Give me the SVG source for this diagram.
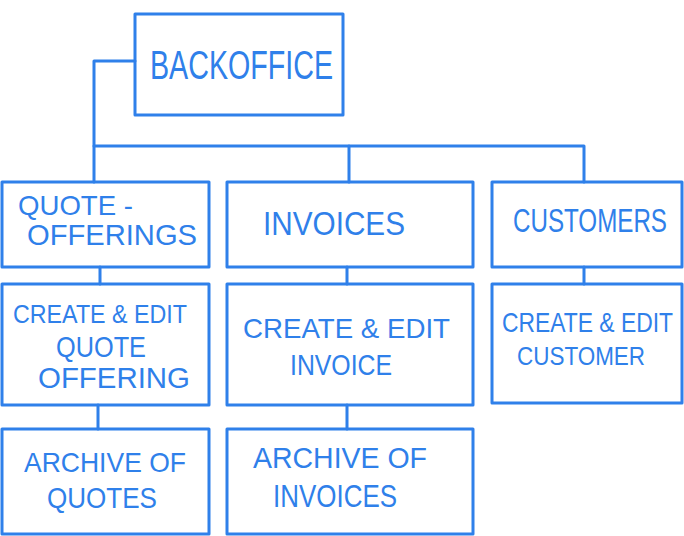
<svg xmlns="http://www.w3.org/2000/svg" width="684" height="536" viewBox="0 0 684 536">
<style>
.box{fill:none;stroke:#2f80ea;stroke-width:3;stroke-linejoin:round}
.ln{fill:none;stroke:#2f80ea;stroke-width:3;stroke-linecap:round;stroke-linejoin:round}
text{font-family:"Liberation Sans","DejaVu Sans",sans-serif;fill:#2f80ea;font-weight:normal}
</style>
<rect width="684" height="536" fill="#ffffff"/>
<g id="connectors">
<polyline class="ln" points="135,61 94,61 94,182"/>
<polyline class="ln" points="94,146 584,146 584,182"/>
<line class="ln" x1="349" y1="146" x2="349" y2="182"/>
<line class="ln" x1="100" y1="267" x2="100" y2="284"/>
<line class="ln" x1="98" y1="405" x2="98" y2="429"/>
<line class="ln" x1="347" y1="267" x2="347" y2="284"/>
<line class="ln" x1="347" y1="405" x2="347" y2="429"/>
<line class="ln" x1="584" y1="267" x2="584" y2="284"/>
</g>
<g id="backoffice">
<rect class="box" x="135" y="14" width="208" height="101"/>
<text x="150" y="79" font-size="40" textLength="183" lengthAdjust="spacingAndGlyphs">BACKOFFICE</text>
</g>
<g id="quote-offerings">
<rect class="box" x="2" y="182" width="207" height="85"/>
<text x="18" y="215" font-size="28" textLength="115" lengthAdjust="spacingAndGlyphs">QUOTE -</text>
<text x="27" y="245" font-size="30" textLength="170" lengthAdjust="spacingAndGlyphs">OFFERINGS</text>
</g>
<g id="create-edit-quote">
<rect class="box" x="2" y="284" width="207" height="121"/>
<text x="13" y="323" font-size="26" textLength="174" lengthAdjust="spacingAndGlyphs">CREATE &amp; EDIT</text>
<text x="56" y="357" font-size="30" textLength="90" lengthAdjust="spacingAndGlyphs">QUOTE</text>
<text x="38" y="388" font-size="30" textLength="152" lengthAdjust="spacingAndGlyphs">OFFERING</text>
</g>
<g id="archive-quotes">
<rect class="box" x="2" y="429" width="207" height="105"/>
<text x="24" y="472" font-size="28" textLength="162" lengthAdjust="spacingAndGlyphs">ARCHIVE OF</text>
<text x="47" y="508" font-size="30" textLength="110" lengthAdjust="spacingAndGlyphs">QUOTES</text>
</g>
<g id="invoices">
<rect class="box" x="227" y="182" width="246" height="85"/>
<text x="263" y="235" font-size="34" textLength="142" lengthAdjust="spacingAndGlyphs">INVOICES</text>
</g>
<g id="create-edit-invoice">
<rect class="box" x="227" y="284" width="246" height="121"/>
<text x="243" y="338" font-size="28" textLength="207" lengthAdjust="spacingAndGlyphs">CREATE &amp; EDIT</text>
<text x="290" y="375" font-size="30" textLength="102" lengthAdjust="spacingAndGlyphs">INVOICE</text>
</g>
<g id="archive-invoices">
<rect class="box" x="227" y="429" width="246" height="105"/>
<text x="253" y="468" font-size="30" textLength="174" lengthAdjust="spacingAndGlyphs">ARCHIVE OF</text>
<text x="273" y="507" font-size="32" textLength="124" lengthAdjust="spacingAndGlyphs">INVOICES</text>
</g>
<g id="customers">
<rect class="box" x="492" y="182" width="190" height="85"/>
<text transform="translate(513 232) scale(1 1.3)" font-size="25" textLength="154" lengthAdjust="spacingAndGlyphs">CUSTOMERS</text>
</g>
<g id="create-edit-customer">
<rect class="box" x="492" y="284" width="190" height="119"/>
<text transform="translate(502 332) scale(1 1.2)" font-size="23" textLength="171" lengthAdjust="spacingAndGlyphs">CREATE &amp; EDIT</text>
<text x="517" y="365" font-size="26" textLength="128" lengthAdjust="spacingAndGlyphs">CUSTOMER</text>
</g>
</svg>
